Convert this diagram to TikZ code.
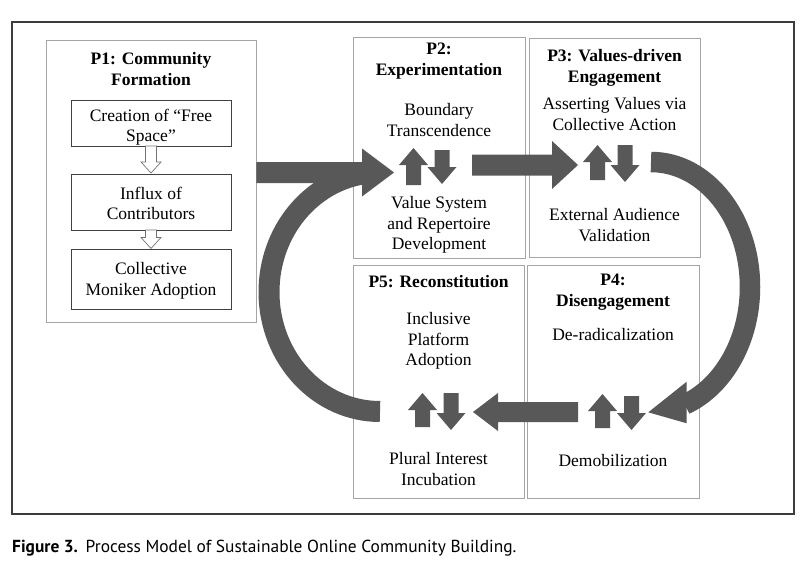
\documentclass[tikz,border=0pt]{standalone}
\usepackage{fontspec}
\setmainfont{Liberation Serif}
\newfontfamily\capfont{PT Sans}
\definecolor{arrgray}{RGB}{88,88,88}
\definecolor{boxgray}{RGB}{165,165,165}
\definecolor{framegray}{RGB}{60,60,60}
\tikzset{
  pbox/.style={draw=boxgray, line width=0.8pt, rectangle, inner sep=0pt},
  ibox/.style={draw=black!75, line width=0.9pt, rectangle, inner sep=0pt},
  txt/.style={align=center, font=\fontsize{17.5}{20.5}\selectfont, inner sep=0pt},
  ttl/.style={align=center, font=\fontsize{17.5}{21}\selectfont\bfseries, inner sep=0pt},
  arr/.style={fill=arrgray, draw=none},
  arcarr/.style={draw=arrgray},
  hol/.style={fill=white, draw=black!55, line width=0.7pt},
}
\newcommand{\blkup}[3]{%
  \fill[arr] (#1-14.5,#2+17) -- (#1,#2) -- (#1+14.5,#2+17) -- (#1+7.5,#2+17) -- (#1+7.5,#3) -- (#1-7.5,#3) -- (#1-7.5,#2+17) -- cycle;}
\newcommand{\blkdn}[3]{%
  \fill[arr] (#1-7.5,#2) -- (#1+7.5,#2) -- (#1+7.5,#3-17) -- (#1+14.5,#3-17) -- (#1,#3) -- (#1-14.5,#3-17) -- (#1-7.5,#3-17) -- cycle;}
\newcommand{\holdn}[3]{%
  \filldraw[hol] (#1-5.5,#2) -- (#1+5.5,#2) -- (#1+5.5,#3-11) -- (#1+10,#3-11) -- (#1,#3) -- (#1-10,#3-11) -- (#1-5.5,#3-11) -- cycle;}
\begin{document}
\begin{tikzpicture}[x=1pt,y=-1pt]
\useasboundingbox (0,0) rectangle (807,570);
\fill[white] (0,0) rectangle (807,570);
\draw[framegray, line width=1.4pt] (12,22) rectangle (794,514);

% phase boxes
\node[pbox, minimum width=210pt, minimum height=282pt] (p1) at (151,181) {};
\node[pbox, minimum width=172pt, minimum height=221pt] (p2) at (439,147.5) {};
\node[pbox, minimum width=171pt, minimum height=219pt] (p3) at (614.5,147.5) {};
\node[pbox, minimum width=171pt, minimum height=233pt] (p5) at (438.5,381.5) {};
\node[pbox, minimum width=172pt, minimum height=233pt] (p4) at (613,381.5) {};

% P1 inner boxes
\node[ibox, minimum width=160pt, minimum height=46pt] (b1) at (151,123) {};
\node[ibox, minimum width=160pt, minimum height=56pt] (b2) at (151,202) {};
\node[ibox, minimum width=160pt, minimum height=60pt] (b3) at (151,279) {};
\holdn{151}{146}{173}
\holdn{151}{230}{248.5}

% texts
\node[ttl] (t1) at (151,69.5) {P1: Community\\Formation};
\node[txt] (b1t) at (151,127) {Creation of “Free\\Space”};
\node[txt] (b2t) at (151,203.5) {Influx of\\Contributors};
\node[txt] (b3t) at (151,281) {Collective\\Moniker Adoption};

\node[ttl] (t2) at (439,61) {P2:\\Experimentation};
\node[txt] (p2a) at (439,120) {Boundary\\Transcendence};
\node[txt] (p2b) at (439,225) {Value System\\and Repertoire\\Development};

\node[ttl] (t3) at (614.5,68) {P3: Values-driven\\Engagement};
\node[txt] (p3a) at (614.5,114) {Asserting Values via\\Collective Action};
\node[txt] (p3b) at (614.5,225) {External Audience\\Validation};

\node[ttl] (t4) at (613,292.5) {P4:\\Disengagement};
\node[txt] (p4a) at (613,335) {De-radicalization};
\node[txt] (p4b) at (613,461) {Demobilization};

\node[ttl] (t5) at (438.5,282) {P5: Reconstitution};
\node[txt] (p5a) at (438.5,341) {Inclusive\\Platform\\Adoption};
\node[txt] (p5b) at (438.5,469) {Plural Interest\\Incubation};

% small up/down arrows
\blkup{413.5}{148}{185}\blkdn{442}{150}{184}
\blkup{597.5}{145}{180}\blkdn{625}{145}{182}
\blkup{602.5}{394}{428}\blkdn{631.5}{396}{430}
\blkup{422.5}{393}{427}\blkdn{451}{393}{430}

% big curved arrows
\draw[arcarr, line width=21pt] (380,411.5) arc[start angle=90, end angle=263, x radius=111, y radius=119.5];
\draw[arcarr, line width=20.5pt] (651,162) arc[start angle=-90, end angle=70, x radius=99, y radius=125];
\fill[arr] (686.7,381.7) -- (648.3,412.3) -- (686.7,423.3) -- cycle;

% big straight arrows
\fill[arr] (p1.east |- 0,162) -- (362,162) -- (362,148.5) -- (394,172.5) -- (362,196.5) -- (362,183) -- (p1.east |- 0,183) -- cycle;
\fill[arr] (472,154.5) -- (552,154.5) -- (552,141) -- (578,165) -- (552,189) -- (552,175.5) -- (472,175.5) -- cycle;
\fill[arr] (578,402) -- (498,402) -- (498,393) -- (473,412) -- (498,431) -- (498,422) -- (578,422) -- cycle;

% caption
\node[anchor=base west, inner sep=0pt, font=\capfont\fontsize{17.4}{20}\selectfont] (cap) at (12,552) {\textbf{Figure 3.}\hspace{0.45em}Process Model of Sustainable Online Community Building.};
\end{tikzpicture}
\end{document}
